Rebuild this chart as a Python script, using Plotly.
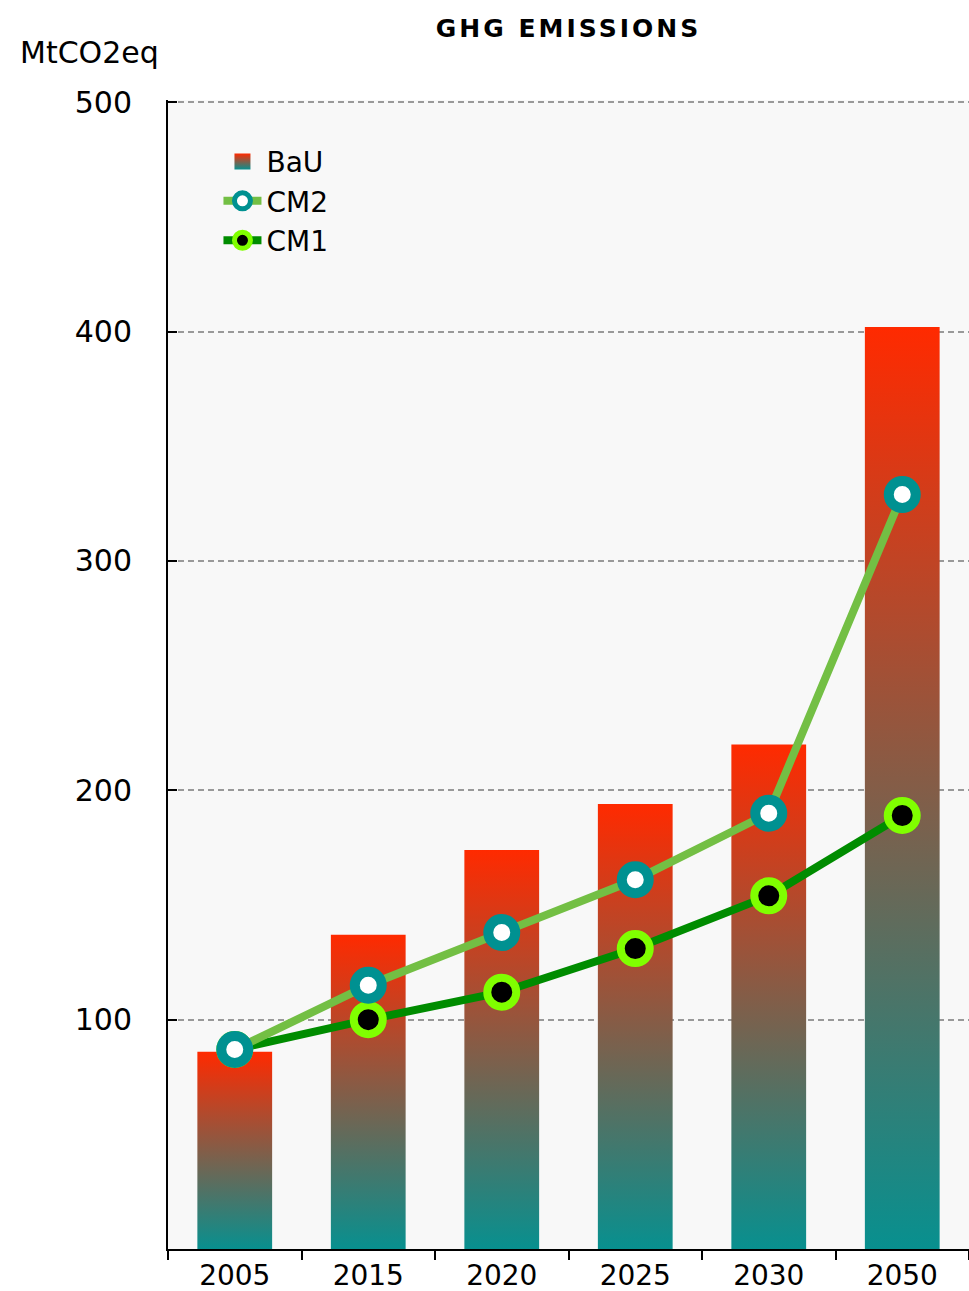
import plotly.graph_objects as go

years = ["2005", "2015", "2020", "2025", "2030", "2050"]
bau = [86, 137, 174, 194, 220, 402]
cm2 = [87, 115, 138, 161, 190, 329]
cm1 = [87, 100, 112, 131, 154, 189]
y_tickvals = [0, 100, 200, 300, 400, 500]
y_ticktext = ["", "100", "200", "300", "400", "500"]

RED = "#ff2a00"
TEAL = "#08908f"
FONT = "DejaVu Sans"
BAR_HALF = 0.28

xs = list(range(len(years)))
fig = go.Figure()

for i, (x, v) in enumerate(zip(xs, bau)):
    fig.add_trace(go.Scatter(
        x=[x - BAR_HALF, x + BAR_HALF], y=[v, v],
        mode="lines", line=dict(width=0, color=RED),
        fill="tozeroy",
        fillgradient=dict(type="vertical", colorscale=[[0, TEAL], [1, RED]],
                          start=0, stop=v),
        name="BaU", legendgroup="bau", showlegend=False,
        hoverinfo="skip",
    ))

# legend swatch for the gradient bars
fig.add_trace(go.Scatter(
    x=[None], y=[None], mode="markers", name="BaU", legendgroup="bau", legendrank=1,
    marker=dict(symbol="square", size=16, color=RED,
                gradient=dict(type="vertical", color=TEAL)),
))

fig.add_trace(go.Scatter(
    x=xs, y=cm1, mode="lines+markers", name="CM1", legendrank=3,
    line=dict(color="#008c00", width=8),
    marker=dict(size=29, color="black", line=dict(color="#80ff00", width=8)),
))
fig.add_trace(go.Scatter(
    x=xs, y=cm2, mode="lines+markers", name="CM2", legendrank=2,
    line=dict(color="#73bf44", width=8),
    marker=dict(size=27, color="white", line=dict(color="#009191", width=10)),
))

fig.update_layout(
    width=969, height=1291,
    margin=dict(l=168, r=0, t=100, b=42, autoexpand=False),
    paper_bgcolor="white", plot_bgcolor="#f8f8f8",
    font=dict(family=FONT, color="black", size=30),
    title=dict(text='<b><span style="letter-spacing:3px">GHG EMISSIONS</span></b>',
               x=0.5, xref="paper", xanchor="center",
               y=1 - 28 / 1291, yref="container", yanchor="middle",
               font=dict(size=25, family=FONT, color="black")),
    legend=dict(x=0.063, y=0.968, xanchor="left", yanchor="top",
                bgcolor="rgba(0,0,0,0)", font=dict(size=28), tracegroupgap=0,
                itemwidth=38),
    showlegend=True,
    xaxis=dict(range=[-0.5, 5.5], tickmode="array", tickvals=xs, ticktext=years,
               ticks="", showline=True, linecolor="black", linewidth=2,
               showgrid=False, zeroline=False, tickfont=dict(size=28),
               ticklabelstandoff=0, automargin=False,
               minor=dict(tickmode="array", tickvals=[k - 0.5 for k in range(len(years) + 1)],
                          ticks="outside", ticklen=9, tickwidth=2, tickcolor="black",
                          showgrid=False)),
    yaxis=dict(range=[0, 501], tickmode="array", tickvals=y_tickvals, ticktext=y_ticktext,
               ticks="inside", ticklen=9, tickwidth=2, tickcolor="black",
               showline=True, linecolor="black", linewidth=2,
               showgrid=True, gridcolor="#999999", griddash="6px,4px", gridwidth=2,
               zeroline=False, tickfont=dict(size=30), ticklabelstandoff=28,
               automargin=False),
    annotations=[dict(text="MtCO2eq", xref="paper", yref="paper",
                      x=-0.1873, y=1 + 48 / 1149, xanchor="left", yanchor="middle",
                      showarrow=False, font=dict(size=30, color="black"))],
)

fig.write_html("out.html", config={"displayModeBar": False},
               post_script="document.body.style.margin='0';")
